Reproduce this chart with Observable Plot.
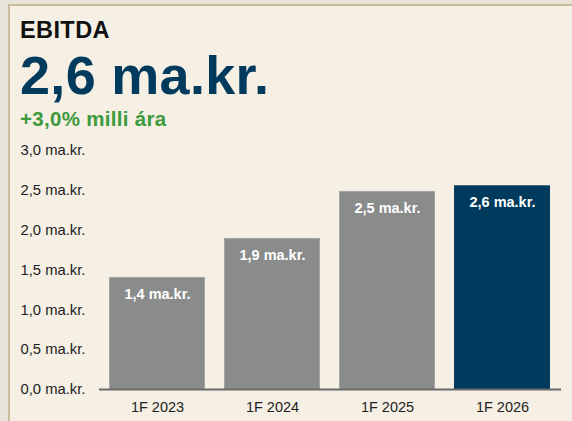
<!DOCTYPE html>
<html>
<head>
<meta charset="utf-8">
<script src="https://cdn.jsdelivr.net/npm/d3@7"></script>
<script src="https://cdn.jsdelivr.net/npm/@observablehq/plot@0.6"></script>
<style>
  html, body { margin: 0; padding: 0; background: #e8e4da; }
  #wrap { position: relative; width: 572px; height: 421px; overflow: hidden; background: #e8e4da; font-family: "Liberation Sans", Arial, sans-serif; }
  #panel { position: absolute; left: 8px; top: 4px; width: 600px; height: 460px; background: #f5efe4; border-left: 2px solid #cbbd9b; border-top: 2px solid #cbbd9b; box-sizing: border-box; }
  .t { position: absolute; left: 20px; white-space: nowrap; font-weight: bold; line-height: 1; }
  #title { top: 18.5px; font-size: 23.5px; letter-spacing: 0.4px; color: #111; }
  #big { top: 47.5px; font-size: 54px; letter-spacing: 0.3px; color: #003a5c; }
  #sub { top: 108.6px; font-size: 20.5px; letter-spacing: 0.3px; color: #3d9a3d; }
  #chart { position: absolute; left: 0; top: 0; }
</style>
</head>
<body>
<div id="wrap">
  <div id="panel"></div>
  <div class="t" id="title"></div>
  <div class="t" id="big"></div>
  <div class="t" id="sub"></div>
  <div id="chart"></div>
</div>
<script>
const title = "EBITDA";
const headline = "2,6 ma.kr.";
const change = "+3,0% milli ára";
const periods = ["1F 2023", "1F 2024", "1F 2025", "1F 2026"];
const values = [1.40, 1.89, 2.48, 2.55];
const barLabels = ["1,4 ma.kr.", "1,9 ma.kr.", "2,5 ma.kr.", "2,6 ma.kr."];
const yTicks = [0, 0.5, 1.0, 1.5, 2.0, 2.5, 3.0];
const yTickLabels = ["0,0 ma.kr.", "0,5 ma.kr.", "1,0 ma.kr.", "1,5 ma.kr.", "2,0 ma.kr.", "2,5 ma.kr.", "3,0 ma.kr."];

document.getElementById("title").textContent = title;
document.getElementById("big").textContent = headline;
document.getElementById("sub").textContent = change;

const data = periods.map((p, i) => ({period: p, value: values[i], label: barLabels[i], current: i === periods.length - 1}));

const chart = Plot.plot({
  width: 572,
  height: 421,
  marginLeft: 99,
  marginRight: 11,
  marginTop: 150,
  marginBottom: 32,
  style: {background: "transparent", fontFamily: "Liberation Sans, Arial, sans-serif", color: "#222"},
  x: {domain: periods, paddingInner: 0.165, paddingOuter: 0.087},
  y: {domain: [0, 3]},
  marks: [
    Plot.barY(data, {
      x: "period", y: "value",
      fill: d => d.current ? "#003a5c" : "#8a8c8c",
      stroke: d => d.current ? "#003a5c" : "#a3a5a4",
      strokeWidth: 1,
      insetLeft: 0.5, insetRight: 0.5
    }),
    Plot.ruleY([0], {stroke: "#6a6a6a", strokeWidth: 2}),
    Plot.text(data, {
      x: "period", y: "value", text: "label",
      dy: 16, fill: "white", fontWeight: "bold", fontSize: 14.5
    }),
    Plot.axisY({
      ticks: yTicks,
      tickFormat: d => yTickLabels[yTicks.indexOf(d)],
      tickSize: 0, tickPadding: 0,
      textAnchor: "start", dx: -79,
      fontSize: 14.8, fill: "#222", label: null
    }),
    Plot.axisX({
      tickSize: 0, tickPadding: 12,
      fontSize: 14.5, fill: "#222", label: null
    })
  ]
});
document.getElementById("chart").appendChild(chart);
</script>
</body>
</html>
